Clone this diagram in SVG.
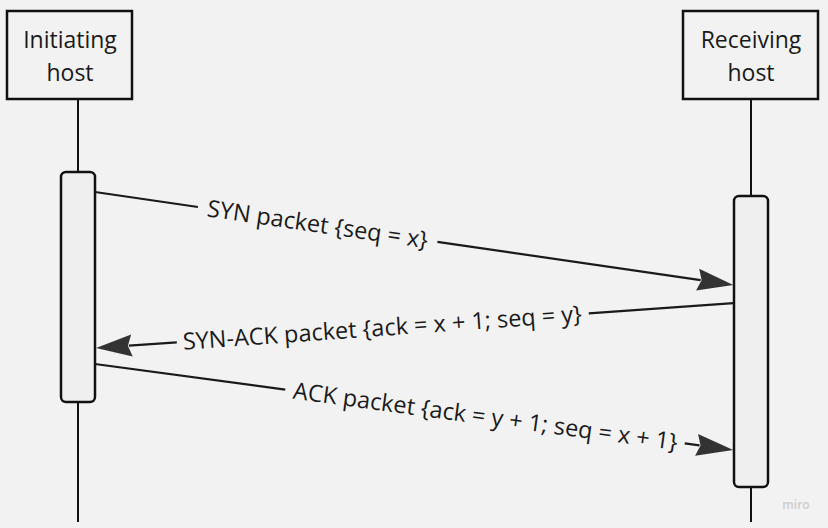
<svg xmlns="http://www.w3.org/2000/svg" width="828" height="528" viewBox="0 0 828 528">
<style>
.bg{fill:#f2f2f2}
.box{fill:#f2f2f2;stroke:#111;stroke-width:2.5}
.act{fill:#efefef;stroke:#111;stroke-width:2.5}
.life{stroke:#111;stroke-width:2;fill:none}
.ln{stroke:#1a1a1a;stroke-width:2.2;fill:none}
.head{fill:#333}
.t{font-family:"Open Sans","Noto Sans",sans-serif;font-size:23px;fill:#1a1a1a}
.lbl{font-size:23.5px}
.wm{font-family:"Open Sans",sans-serif;font-size:12px;font-weight:600;fill:#cdcdcd}
</style>
<rect class="bg" x="0" y="0" width="828" height="528"/>
<g id="initiating-host">
  <line class="life" x1="78" y1="99" x2="78" y2="172"/>
  <line class="life" x1="78" y1="402" x2="78" y2="522"/>
  <rect class="box" x="7" y="11" width="125" height="88"/>
  <text class="t" x="70" y="48" text-anchor="middle">Initiating</text>
  <text class="t" x="70" y="81" text-anchor="middle">host</text>
  <rect class="act" x="61" y="172" width="34" height="230" rx="5"/>
</g>
<g id="receiving-host">
  <line class="life" x1="751" y1="99" x2="751" y2="196"/>
  <line class="life" x1="751" y1="487" x2="751" y2="522"/>
  <rect class="box" x="683" y="11" width="135" height="88"/>
  <text class="t" x="751" y="48" text-anchor="middle">Receiving</text>
  <text class="t" x="751" y="81" text-anchor="middle">host</text>
  <rect class="act" x="734" y="196" width="34" height="291" rx="5"/>
</g>
<g id="connectors">
  <g id="syn" transform="translate(95,192) rotate(8.28)">
    <line class="ln" x1="0" y1="0" x2="104" y2="0"/>
    <line class="ln" x1="346" y1="0" x2="612" y2="0"/>
    <polygon class="head" points="645,0 609,-11 613,0 609,11"/>
    <text class="t lbl" x="225" y="8" text-anchor="middle">SYN packet {seq = x}</text>
  </g>
  <g id="syn-ack" transform="translate(96,348) rotate(-4.03)">
    <line class="ln" x1="33" y1="0" x2="81" y2="0"/>
    <line class="ln" x1="494" y1="0" x2="639" y2="0"/>
    <polygon class="head" points="0,0 36,-11 32,0 36,11"/>
    <text class="t lbl" x="287" y="8" text-anchor="middle">SYN-ACK packet {ack = x + 1; seq = y}</text>
  </g>
  <g id="ack" transform="translate(95,364) rotate(7.665)">
    <line class="ln" x1="0" y1="0" x2="192" y2="0"/>
    <line class="ln" x1="595" y1="0" x2="610" y2="0"/>
    <polygon class="head" points="644,0 607,-11 611,0 607,11"/>
    <text class="t lbl" x="394" y="8" text-anchor="middle">ACK packet {ack = y + 1; seq = x + 1}</text>
  </g>
</g>
<text class="wm" x="796" y="509" text-anchor="middle">miro</text>
</svg>
